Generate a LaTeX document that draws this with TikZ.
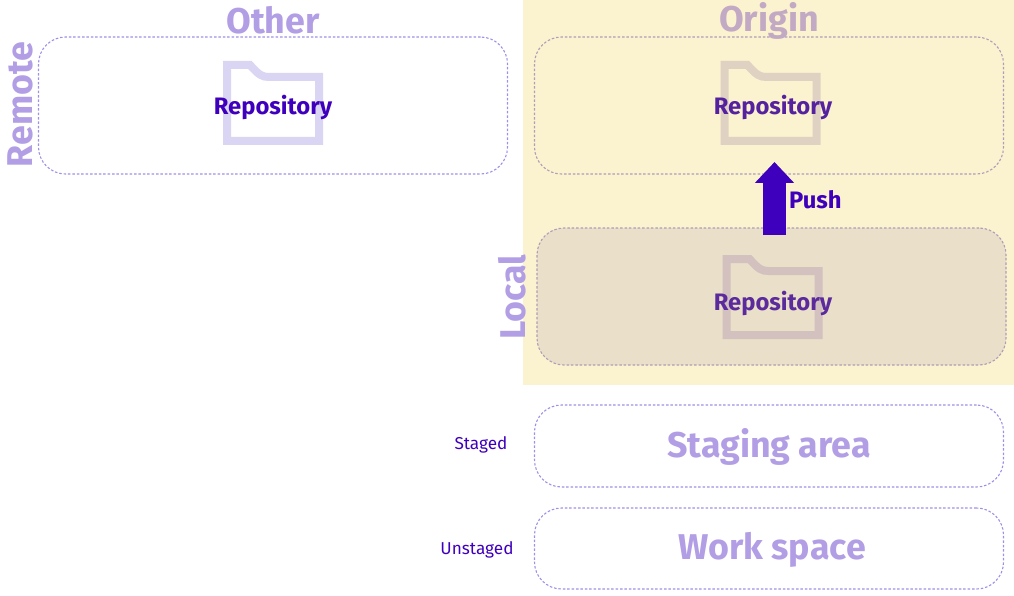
\documentclass[tikz,border=0pt]{standalone}
\usepackage{fontspec}
\setmainfont{Fira Sans}
\usetikzlibrary{arrows.meta}
\definecolor{ink}{HTML}{3F00BD}
\definecolor{inklocal}{HTML}{5B2A9D}
\definecolor{inkorigin}{HTML}{55229F}
\definecolor{soft}{HTML}{B29EE4}
\definecolor{softorigin}{HTML}{C2A9C4}
\definecolor{edge}{HTML}{A18FE6}
\definecolor{edgeyellow}{HTML}{AE9EB8}
\definecolor{sand}{HTML}{FBF2CF}
\definecolor{sanddark}{HTML}{EADFC8}
\definecolor{folderplain}{HTML}{DAD5F3}
\definecolor{folderorigin}{HTML}{E0D2C3}
\definecolor{folderlocal}{HTML}{D2C1BE}
\tikzset{
  area/.style={draw=edge, line width=1.1pt, dash pattern=on 2.5pt off 1.9pt, rounded corners=27pt, minimum width=469pt, inner sep=0pt},
  heading/.style={text=soft, inner sep=0pt, font=\fontsize{35.8}{36}\selectfont\bfseries},
  repolabel/.style={text=ink, inner sep=0pt, font=\fontsize{23.8}{24}\selectfont\bfseries},
  sidelabel/.style={text=ink, inner sep=0pt, font=\fontsize{17.2}{18}\selectfont},
  pics/folder/.style={code={
    \draw [#1, line width=8pt, miter limit=10] (-46,-38) -- (-23,-38) .. controls (-14,-28) and (-11,-26) .. (-4,-26) -- (46,-26) -- (46,38) -- (-46,38) -- cycle;
  }}
}
\begin{document}
\begin{tikzpicture}[x=1pt,y=-1pt]
\useasboundingbox (0,0) rectangle (1014,596);
\fill [sand] (523,0) rectangle (1014,385);
% boxes
\node [area, minimum height=137pt] (other) at (273,105.5) {};
\node [area, minimum height=137pt, draw=edgeyellow] (origin) at (769,105.5) {};
\node [area, minimum height=137pt, draw=edgeyellow, fill=sanddark] (local) at (771.5,296.5) {};
\node [area, minimum height=82pt] (staging) at (769,446) {};
\node [area, minimum height=81pt] (work) at (769,548.5) {};
% folders
\pic at (273,103) {folder=folderplain};
\pic at (770.5,103) {folder=folderorigin};
\pic at (772.5,297) {folder=folderlocal};
% labels
\node [heading] (othertitle) at (273,20) {Other};
\node [heading, text=softorigin] (origintitle) at (769,21) {Origin};
\node [heading, rotate=90] (remotetitle) at (20,104.5) {Remote};
\node [heading, rotate=90] (localtitle) at (512,297) {Local};
\node [heading] (stagingtitle) at (769,447) {Staging area};
\node [heading] (worktitle) at (772,550) {Work space};
\node [repolabel] (otherrepo) at (273,107) {Repository};
\node [repolabel, text=inkorigin] (originrepo) at (773,107) {Repository};
\node [repolabel, text=inklocal] (localrepo) at (773,303) {Repository};
\node [sidelabel] (staged) at (481,445) {Staged};
\node [sidelabel] (unstaged) at (477,550) {Unstaged};
% push arrow
\coordinate (pushstart) at (774.5,235);
\coordinate (pushend) at (774.5,162);
\draw [ink, line width=23pt, -{Triangle[width=38pt,length=21pt]}] (pushstart) -- (pushend);
\node [repolabel, anchor=west] (pushlabel) at (789,200) {Push};
\end{tikzpicture}
\end{document}
